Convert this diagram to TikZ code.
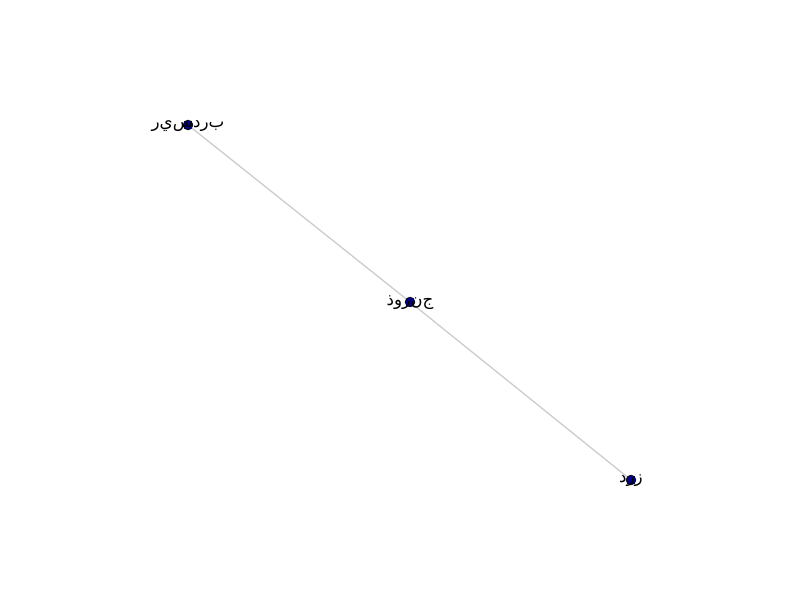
\documentclass[tikz,border=0pt]{standalone}
\usepackage{fontspec}
\newfontfamily\arabicfont[Script=Arabic]{DejaVu Sans}
\TeXXeTstate=1
\definecolor{nodeblue}{HTML}{00008B}
\definecolor{edgegray}{HTML}{CCCCCC}
\tikzset{
  city/.style={circle,draw=black,line width=0.6pt,fill=nodeblue,minimum size=9.8pt,inner sep=0pt},
  lbl/.style={font=\arabicfont\fontsize{16.7}{19}\selectfont,inner sep=0pt,text=black},
  link/.style={draw=edgegray,line width=1.3pt}
}
\begin{document}
\begin{tikzpicture}[x=1pt,y=-1pt]
\useasboundingbox (0,0) rectangle (800,600);
\node[city] (a) at (188,125) {};
\node[city] (b) at (410,302) {};
\node[city] (c) at (631,480) {};
\draw[link] (a) -- (b);
\draw[link] (b) -- (c);
\node[lbl] (la) at (188,126) {\beginR ب‌ر‌د‌س‌ي‌ر\endR};
\node[lbl] (lb) at (410,303) {\beginR ج‌ن‌ر‌و‌ذ\endR};
\node[lbl] (lc) at (631,481) {\beginR ز‌ر‌د\endR};
\end{tikzpicture}
\end{document}
